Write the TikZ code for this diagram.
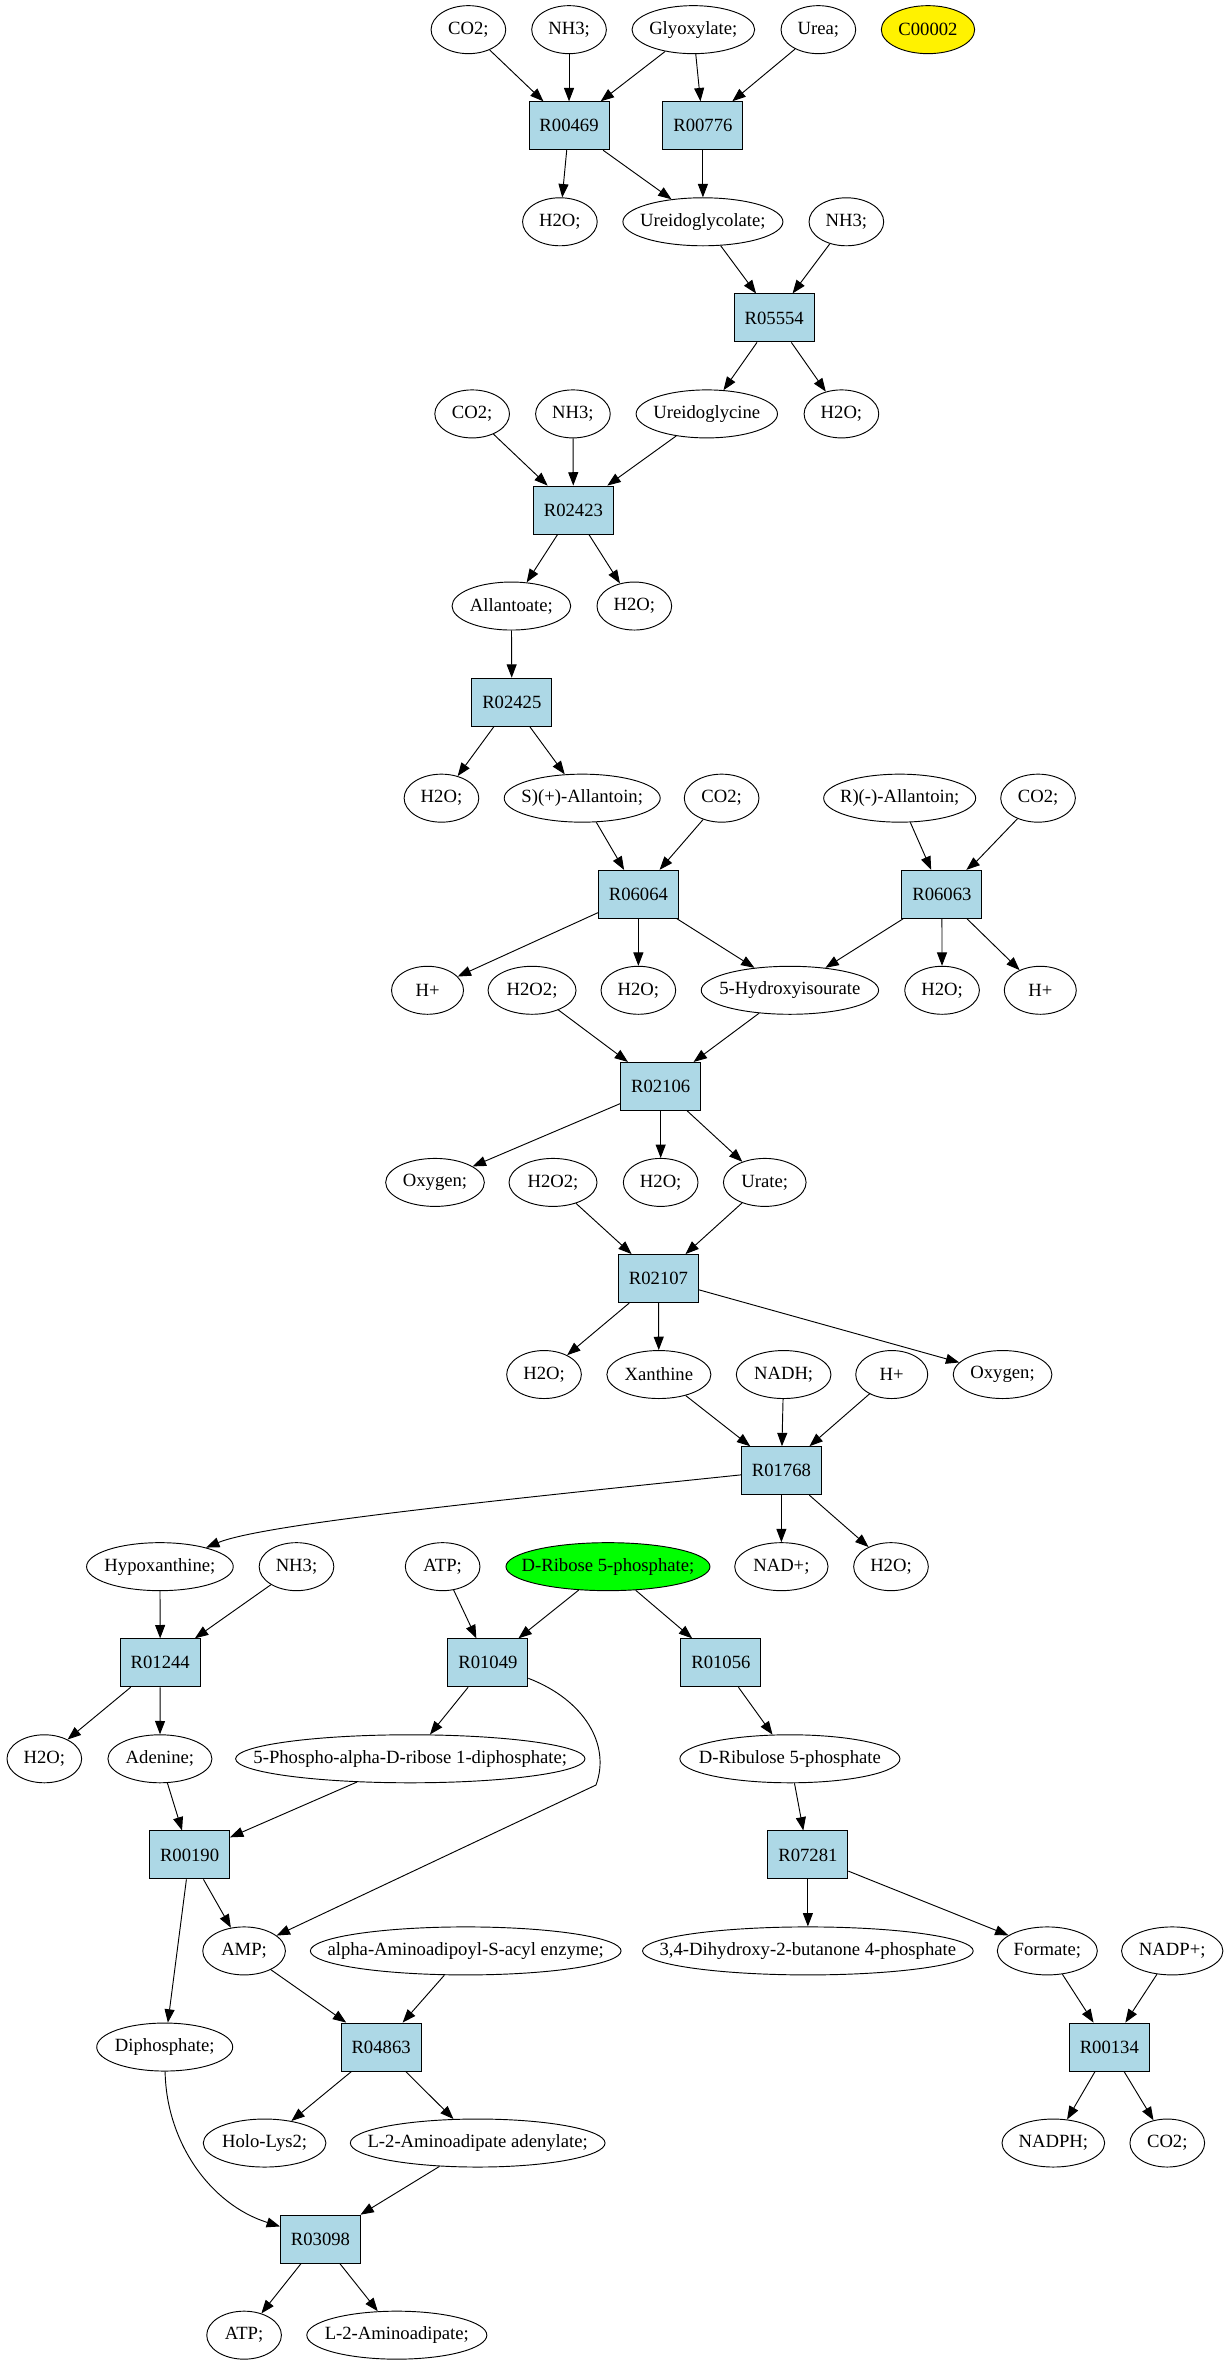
\documentclass[tikz,border=0pt]{standalone}
\usepackage{fontspec}
\setmainfont{Liberation Serif}
\usetikzlibrary{shapes.geometric}
\usetikzlibrary{arrows.meta}
\definecolor{lightblue}{RGB}{173,216,230}

\begin{document}
\begin{tikzpicture}[->,>={Triangle[length=10pt,width=7.5pt]},x=1.123pt,y=-1.123pt,line width=0.7pt]
		\tikzset{reaction/.style = {shape=rectangle, draw, fill=lightblue, minimum width=60pt, minimum height=36pt, inner sep=0pt, font=\fontsize{14}{16}\selectfont}}
		\tikzset{compound/.style = {shape=ellipse, draw, minimum width=#1, minimum height=36pt, inner sep=0pt, font=\fontsize{14}{16}\selectfont,
				execute at begin node={\hbox to 0pt\bgroup\hss}, execute at end node={\hss\egroup}},
			compound/.default=56pt}
		\useasboundingbox (0,0) rectangle (820,1578);
		
		% compounds and reactions, rank by rank
		\node[compound] (CO2a) at (312.8,19.8) {CO2;};
		\node[compound] (NH3a) at (380,19.8) {NH3;};
		\node[compound=92pt] (GLYOX) at (463,19.8) {Glyoxylate;};
		\node[compound] (UREA) at (546.5,19.8) {Urea;};
		\node[compound=70pt, fill=yellow] (C00002) at (619.7,19.8) {C00002};
		
		\node[reaction] (R00469) at (380,84) {R00469};
		\node[reaction] (R00776) at (469.4,84) {R00776};
		
		\node[compound] (H2Oa) at (373.9,148.1) {H2O;};
		\node[compound=120pt] (UGLYCOL) at (469.4,148.1) {Ureidoglycolate;};
		\node[compound] (NH3b) at (565.2,148.1) {NH3;};
		
		\node[reaction] (R05554) at (517,212.3) {R05554};
		
		\node[compound] (CO2b) at (315.3,276.4) {CO2;};
		\node[compound] (NH3c) at (382.6,276.4) {NH3;};
		\node[compound=106pt] (UGLYCINE) at (472,276.4) {Ureidoglycine};
		\node[compound] (H2Ob) at (561.9,276.4) {H2O;};
		
		\node[reaction] (R02423) at (382.9,340.6) {R02423};
		
		\node[compound=89pt] (ALLANTOATE) at (341.5,404.7) {Allantoate;};
		\node[compound] (H2Oc) at (423.6,404.7) {H2O;};
		
		\node[reaction] (R02425) at (341.8,468.9) {R02425};
		
		\node[compound] (H2Od) at (294.8,533) {H2O;};
		\node[compound=117pt] (SALLANTOIN) at (388.8,533) {S)(+)-Allantoin;};
		\node[compound] (CO2c) at (481.9,533) {CO2;};
		\node[compound=114pt] (RALLANTOIN) at (600.8,533) {R)(-)-Allantoin;};
		\node[compound] (CO2d) at (693.2,533) {CO2;};
		
		\node[reaction] (R06064) at (426.3,597.2) {R06064};
		\node[reaction] (R06063) at (629,597.2) {R06063};
		
		\node[compound=54pt] (Ha) at (285.5,661.3) {H+};
		\node[compound=66pt] (H2O2a) at (355.3,661.3) {H2O2;};
		\node[compound] (H2Oe) at (426.3,661.3) {H2O;};
		\node[compound=133pt] (HIU) at (527.5,661.3) {5-Hydroxyisourate};
		\node[compound] (H2Of) at (629.1,661.3) {H2O;};
		\node[compound=54pt] (Hb) at (694.7,661.3) {H+};
		
		\node[reaction] (R02106) at (441.2,725.5) {R02106};
		
		\node[compound=74pt] (OXYGENa) at (290.5,789.6) {Oxygen;};
		\node[compound=66pt] (H2O2b) at (369.3,789.6) {H2O2;};
		\node[compound] (H2Og) at (441.2,789.6) {H2O;};
		\node[compound=62pt] (URATE) at (510.7,789.6) {Urate;};
		
		\node[reaction] (R02107) at (439.7,853.8) {R02107};
		
		\node[compound] (H2Oh) at (363.3,917.9) {H2O;};
		\node[compound=78pt] (XANTHINE) at (440,917.9) {Xanthine};
		\node[compound=71pt] (NADH) at (523.3,917.9) {NADH;};
		\node[compound=54pt] (Hc) at (595.5,917.9) {H+};
		\node[compound=74pt] (OXYGENb) at (669.5,917.9) {Oxygen;};
		
		\node[reaction] (R01768) at (521.8,982.1) {R01768};
		
		\node[compound=110pt] (HYPOX) at (106.8,1046.2) {Hypoxanthine;};
		\node[compound] (NH3d) at (198,1046.2) {NH3;};
		\node[compound] (ATPa) at (295.6,1046.2) {ATP;};
		\node[compound=153pt, fill=green] (RIBOSE) at (406,1046.2) {D-Ribose 5-phosphate;};
		\node[compound=70pt] (NAD) at (521.8,1046.2) {NAD+;};
		\node[compound] (H2Oi) at (595,1046.2) {H2O;};
		
		\node[reaction] (R01244) at (107,1110.4) {R01244};
		\node[reaction] (R01049) at (325.8,1110.4) {R01049};
		\node[reaction] (R01056) at (481.4,1110.4) {R01056};
		
		\node[compound] (H2Oj) at (29.6,1174.5) {H2O;};
		\node[compound=78pt] (ADENINE) at (106.8,1174.5) {Adenine;};
		\node[compound=262pt] (PRPP) at (274,1174.5) {5-Phospho-alpha-D-ribose 1-diphosphate;};
		\node[compound=165pt] (RIBULOSE) at (527.5,1174.5) {D-Ribulose 5-phosphate};
		
		\node[reaction] (R00190) at (126.6,1238.7) {R00190};
		\node[reaction] (R07281) at (539.5,1238.7) {R07281};
		
		\node[compound=62pt] (AMP) at (163,1302.8) {AMP;};
		\node[compound=233pt] (ACYL) at (311,1302.8) {alpha-Aminoadipoyl-S-acyl enzyme;};
		\node[compound=248pt] (BUTANONE) at (539.5,1302.8) {3,4-Dihydroxy-2-butanone 4-phosphate};
		\node[compound=75pt] (FORMATE) at (699.4,1302.8) {Formate;};
		\node[compound=76pt] (NADP) at (782.8,1302.8) {NADP+;};
		
		\node[compound=102pt] (DIPHOS) at (110,1367) {Diphosphate;};
		\node[reaction] (R04863) at (254.5,1367) {R04863};
		\node[reaction] (R00134) at (740.8,1367) {R00134};
		
		\node[compound=92pt] (HOLO) at (176.7,1431.1) {Holo-Lys2;};
		\node[compound=191pt] (AADENYL) at (319,1431.1) {L-2-Aminoadipate adenylate;};
		\node[compound=77pt] (NADPH) at (703.4,1431.1) {NADPH;};
		\node[compound] (CO2e) at (779.5,1431.1) {CO2;};
		
		\node[reaction] (R03098) at (214,1495.3) {R03098};
		
		\node[compound] (ATPb) at (163,1559.4) {ATP;};
		\node[compound=135pt] (AADIPATE) at (265,1559.4) {L-2-Aminoadipate;};
		
		% substrates -> reaction -> products
		\draw (CO2a) -- (R00469);
		\draw (NH3a) -- (R00469);
		\draw (GLYOX) -- (R00469);
		\draw (GLYOX) -- (R00776);
		\draw (UREA) -- (R00776);
		\draw (R00469) -- (H2Oa);
		\draw (R00469) -- (UGLYCOL);
		\draw (R00776) -- (UGLYCOL);
		\draw (UGLYCOL) -- (R05554);
		\draw (NH3b) -- (R05554);
		\draw (R05554) -- (UGLYCINE);
		\draw (R05554) -- (H2Ob);
		\draw (CO2b) -- (R02423);
		\draw (NH3c) -- (R02423);
		\draw (UGLYCINE) -- (R02423);
		\draw (R02423) -- (ALLANTOATE);
		\draw (R02423) -- (H2Oc);
		\draw (ALLANTOATE) -- (R02425);
		\draw (R02425) -- (H2Od);
		\draw (R02425) -- (SALLANTOIN);
		\draw (SALLANTOIN) -- (R06064);
		\draw (CO2c) -- (R06064);
		\draw (RALLANTOIN) -- (R06063);
		\draw (CO2d) -- (R06063);
		\draw (R06064) -- (Ha);
		\draw (R06064) -- (H2Oe);
		\draw (R06064) -- (HIU);
		\draw (R06063) -- (HIU);
		\draw (R06063) -- (H2Of);
		\draw (R06063) -- (Hb);
		\draw (H2O2a) -- (R02106);
		\draw (HIU) -- (R02106);
		\draw (R02106) -- (OXYGENa);
		\draw (R02106) -- (H2Og);
		\draw (R02106) -- (URATE);
		\draw (H2O2b) -- (R02107);
		\draw (URATE) -- (R02107);
		\draw (R02107) -- (H2Oh);
		\draw (R02107) -- (XANTHINE);
		\draw (R02107) -- (OXYGENb);
		\draw (XANTHINE) -- (R01768);
		\draw (NADH) -- (R01768);
		\draw (Hc) -- (R01768);
		\draw (R01768) .. controls (330,1002) and (175,1018) .. (HYPOX);
		\draw (R01768) -- (NAD);
		\draw (R01768) -- (H2Oi);
		\draw (HYPOX) -- (R01244);
		\draw (NH3d) -- (R01244);
		\draw (ATPa) -- (R01049);
		\draw (RIBOSE) -- (R01049);
		\draw (RIBOSE) -- (R01056);
		\draw (R01244) -- (H2Oj);
		\draw (R01244) -- (ADENINE);
		\draw (R01049) -- (PRPP);
		\coordinate (AMPbend) at (398,1192);
		\draw (R01049) .. controls (390,1135) and (408,1165) .. (AMPbend) -- (AMP);
		\draw (R01056) -- (RIBULOSE);
		\draw (ADENINE) -- (R00190);
		\draw (PRPP) -- (R00190);
		\draw (RIBULOSE) -- (R07281);
		\draw (R00190) -- (AMP);
		\draw (R00190) -- (DIPHOS);
		\draw (R07281) -- (BUTANONE);
		\draw (R07281) -- (FORMATE);
		\draw (AMP) -- (R04863);
		\draw (ACYL) -- (R04863);
		\draw (FORMATE) -- (R00134);
		\draw (NADP) -- (R00134);
		\draw (R04863) -- (HOLO);
		\draw (R04863) -- (AADENYL);
		\draw (R00134) -- (NADPH);
		\draw (R00134) -- (CO2e);
		\draw (DIPHOS) .. controls (111,1430) and (140,1472) .. (R03098);
		\draw (AADENYL) -- (R03098);
		\draw (R03098) -- (ATPb);
		\draw (R03098) -- (AADIPATE);
		
		\end{tikzpicture}
\end{document}
